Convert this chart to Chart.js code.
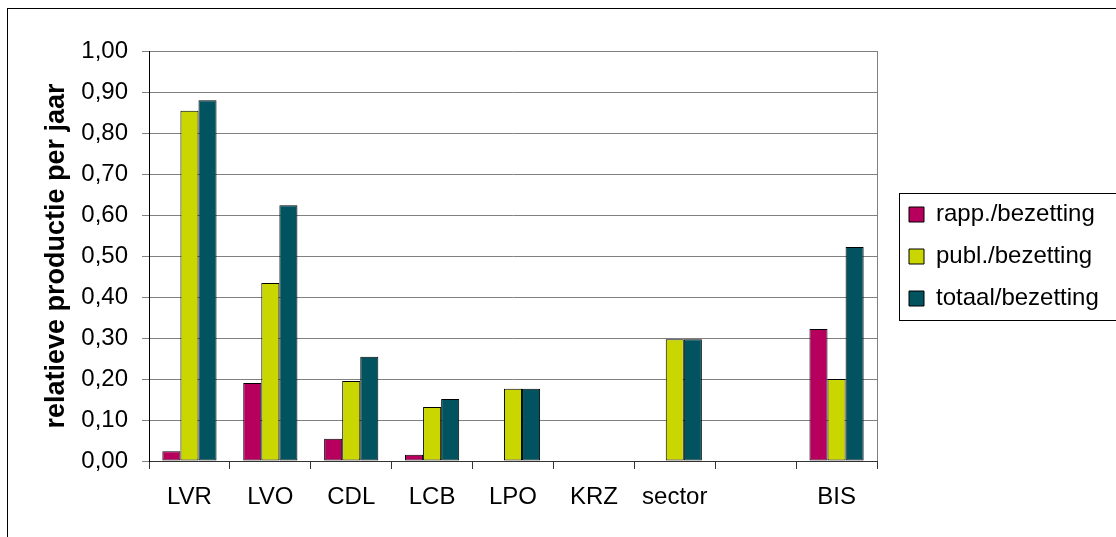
<!DOCTYPE html>
<html>
<head>
<meta charset="utf-8">
<script src="https://cdn.jsdelivr.net/npm/chart.js@4.4.1/dist/chart.umd.min.js"></script>
<style>
    html, body { margin: 0; padding: 0; background: #ffffff; overflow: hidden; }
    #frame {
        position: absolute; left: 7px; top: 8px; width: 1200px; height: 600px;
        border-left: 1px solid #000; border-top: 1px solid #000;
    }
    #chart { position: absolute; left: 0; top: 0; }
</style>
</head>
<body>
<div id="frame"></div>
<canvas id="chart" width="1116" height="537"></canvas>
<script>
// Data
const categories = ['LVR', 'LVO', 'CDL', 'LCB', 'LPO', 'KRZ', 'sector', '', 'BIS'];
const seriesNames = ['rapp./bezetting', 'publ./bezetting', 'totaal/bezetting'];
const rappValues = [0.024, 0.190, 0.054, 0.015, null, null, null, null, 0.322];
const publValues = [0.854, 0.434, 0.195, 0.132, 0.176, null, 0.297, null, 0.200];
const totaalValues = [0.880, 0.624, 0.254, 0.151, 0.176, null, 0.297, null, 0.522];
const yTickLabels = ['0,00', '0,10', '0,20', '0,30', '0,40', '0,50', '0,60', '0,70', '0,80', '0,90', '1,00'];

const FONT = '"Liberation Sans", Arial, sans-serif';
Chart.defaults.font.family = FONT;
Chart.defaults.color = '#000';

// legend width in Chart.js = padding + box + fontSize/2 + text + 10
const legendFontSize = 24;
const legendPad = 18;
const measure = document.createElement('canvas').getContext('2d');
measure.font = legendFontSize + 'px ' + FONT;
const legendTextW = Math.max(...seriesNames.map(s => measure.measureText(s).width));
const legendW = legendPad + 15 + legendFontSize / 2 + legendTextW + 10;
const plotRight = 877;
const legendBox = { left: 899, top: 193, bottom: 320 };
const legendSlack = 40;

// moves the legend into its box and draws the frames Excel draws
const chartFrame = {
    id: 'chartFrame',
    afterLayout(chart) {
        const lg = chart.legend;
        const w = lg.right - lg.left;
        lg.left = legendBox.left - 8;
        lg.right = lg.left + w;
        lg.top = legendBox.top - legendSlack;
        lg.bottom = legendBox.bottom + legendSlack;
    },
    afterDraw(chart) {
        const { ctx, chartArea } = chart;
        ctx.save();
        ctx.lineWidth = 1;
        ctx.strokeStyle = '#808080';
        ctx.beginPath();
        ctx.moveTo(chartArea.right + 0.5, chartArea.top);
        ctx.lineTo(chartArea.right + 0.5, chartArea.bottom);
        ctx.stroke();
        ctx.strokeStyle = '#000';
        ctx.strokeRect(legendBox.left + 0.5, legendBox.top + 0.5, 400, legendBox.bottom - legendBox.top);
        ctx.restore();
    }
};

const makeSet = (label, data, color) => ({
    label: label,
    data: data,
    backgroundColor: color,
    borderColor: '#000',
    borderWidth: 1,
    borderSkipped: false,
    categoryPercentage: 0.67,
    barPercentage: 1.0
});

new Chart(document.getElementById('chart'), {
    type: 'bar',
    data: {
        labels: categories,
        datasets: [
            makeSet(seriesNames[0], rappValues, '#B7005E'),
            makeSet(seriesNames[1], publValues, '#C9D600'),
            makeSet(seriesNames[2], totaalValues, '#00535F')
        ]
    },
    options: {
        responsive: false,
        animation: false,
        layout: {
            padding: { left: 0, top: 51, bottom: 0, right: 1116 - plotRight - legendW }
        },
        plugins: {
            tooltip: { enabled: false },
            legend: {
                position: 'right',
                labels: {
                    boxWidth: 15,
                    boxHeight: 15,
                    padding: legendPad,
                    color: '#000',
                    font: { size: legendFontSize }
                }
            }
        },
        scales: {
            x: {
                afterFit: s => { s.height = 76; },
                grid: {
                    offset: true,
                    drawOnChartArea: false,
                    color: '#333',
                    tickLength: 8
                },
                border: { color: '#333' },
                ticks: {
                    color: '#000',
                    padding: 14,
                    maxRotation: 0,
                    font: { size: 24 }
                }
            },
            y: {
                min: 0,
                max: 1,
                afterFit: s => { s.width = 149; },
                grid: {
                    color: '#808080',
                    tickColor: '#808080',
                    tickLength: 7
                },
                border: { color: '#000' },
                ticks: {
                    stepSize: 0.1,
                    color: '#000',
                    padding: 14,
                    font: { size: 24 },
                    callback: (value, index) => yTickLabels[index]
                },
                title: {
                    display: true,
                    text: 'relatieve productie per jaar',
                    color: '#000',
                    font: { size: 27, weight: 'bold' },
                    padding: { top: 40, bottom: 0 }
                }
            }
        }
    },
    plugins: [chartFrame]
});
</script>
</body>
</html>
